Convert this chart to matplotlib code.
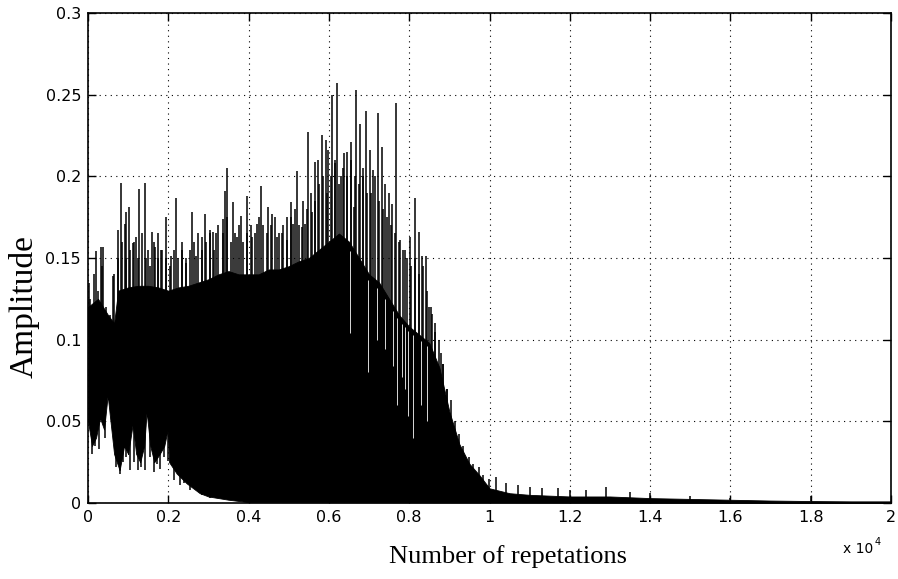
import numpy as np
import matplotlib
matplotlib.use("Agg")
import matplotlib.pyplot as plt

# ---- data ----
# dense-body envelope of the signal
env_x = [0, 250, 500, 650, 750, 1000, 1250, 1500, 1750, 2000, 2250, 2500, 2750, 3000,
         3250, 3500, 3750, 4000, 4250, 4500, 4750, 5000, 5250, 5500, 5750, 6000, 6250,
         6500, 6750, 7000, 7250, 7500, 7750, 8000, 8250, 8500, 8750, 9000, 9250, 9500,
         9750, 10000, 10500, 11000, 12000, 13000, 14000, 15000, 16000, 17000, 18000,
         19000, 20000]
body_top = [0.120, 0.125, 0.115, 0.110, 0.130, 0.132, 0.133, 0.133, 0.132, 0.130, 0.132,
            0.133, 0.135, 0.137, 0.140, 0.142, 0.140, 0.140, 0.140, 0.143, 0.143, 0.145,
            0.148, 0.150, 0.155, 0.160, 0.165, 0.160, 0.150, 0.140, 0.135, 0.125, 0.115,
            0.108, 0.103, 0.098, 0.083, 0.056, 0.036, 0.024, 0.017, 0.009, 0.006, 0.005,
            0.004, 0.004, 0.003, 0.0025, 0.002, 0.0015, 0.0012, 0.001, 0.001]
low_x = [0, 100, 200, 300, 400, 490, 560, 650, 787, 900, 1000, 1111, 1200, 1300, 1400,
         1460, 1550, 1650, 1785, 1900, 1985, 2020, 2210, 2459, 2784, 3000, 3500, 4000,
         20000]
body_low = [0.050, 0.035, 0.040, 0.052, 0.045, 0.066, 0.050, 0.030, 0.020, 0.035, 0.030,
            0.048, 0.030, 0.025, 0.035, 0.056, 0.035, 0.025, 0.030, 0.035, 0.045, 0.025,
            0.018, 0.012, 0.006, 0.004, 0.002, 0.0005, 0.0]

# medium spikes forming the ragged top edge (one every 100 repetitions)
mid_x = list(range(50, 9000, 100))
mid_y = [0.125, 0.140, 0.130, 0.145, 0.120, 0.115, 0.140, 0.150, 0.160, 0.150,
         0.155, 0.160, 0.150, 0.165, 0.150, 0.145, 0.160, 0.150, 0.155, 0.150,
         0.145, 0.155, 0.150, 0.160, 0.150, 0.155, 0.160, 0.165, 0.155, 0.160,
         0.165, 0.155, 0.170, 0.165, 0.175, 0.160, 0.165, 0.170, 0.160, 0.165,
         0.170, 0.165, 0.175, 0.170, 0.165, 0.170, 0.175, 0.165, 0.170, 0.175,
         0.175, 0.180, 0.170, 0.185, 0.180, 0.190, 0.185, 0.195, 0.200, 0.190,
         0.200, 0.210, 0.195, 0.205, 0.200, 0.210, 0.200, 0.195, 0.205, 0.190,
         0.190, 0.200, 0.185, 0.180, 0.175, 0.170, 0.165, 0.160, 0.155, 0.150,
         0.145, 0.150, 0.140, 0.145, 0.130, 0.120, 0.110, 0.100, 0.085, 0.070]

# individual tall spikes
peak_x = [37, 190, 320, 370, 620, 745, 811, 911, 950, 1011, 1120, 1200, 1269, 1411, 1490,
          1593, 1660, 1745, 1827, 1935, 2077, 2193, 2335, 2450, 2584, 2701, 2830, 2909,
          3034, 3117, 3200, 3350, 3408, 3450, 3616, 3700, 3800, 3950, 4075, 4200, 4307,
          4474, 4575, 4700, 4824, 4949, 5049, 5115, 5198, 5323, 5400, 5481, 5573, 5663,
          5738, 5822, 5930, 5988, 6072, 6155, 6213, 6297, 6380, 6447, 6547, 6613, 6679,
          6763, 6846, 6929, 7012, 7096, 7221, 7329, 7400, 7486, 7571, 7678, 7778, 7903,
          8027, 8152, 8235, 8319, 8419, 8500, 8580, 8650, 8780, 8850, 8950, 9030, 9150,
          9230, 9350, 9480, 9600, 9730, 9850, 9980, 10150, 10400, 10700, 11000, 11300,
          11700, 12000, 12400, 12900, 13500, 14000, 15000, 16000, 18000]
peak_y = [0.135, 0.154, 0.157, 0.157, 0.139, 0.167, 0.196, 0.171, 0.178, 0.181, 0.159,
          0.163, 0.192, 0.196, 0.155, 0.166, 0.157, 0.165, 0.155, 0.175, 0.151, 0.187,
          0.155, 0.147, 0.178, 0.151, 0.163, 0.177, 0.167, 0.166, 0.165, 0.174, 0.191,
          0.205, 0.184, 0.163, 0.176, 0.188, 0.163, 0.171, 0.194, 0.181, 0.177, 0.163,
          0.165, 0.161, 0.184, 0.171, 0.203, 0.169, 0.171, 0.227, 0.178, 0.209, 0.210,
          0.225, 0.222, 0.216, 0.250, 0.208, 0.257, 0.200, 0.214, 0.215, 0.221, 0.181,
          0.253, 0.232, 0.200, 0.240, 0.216, 0.204, 0.239, 0.218, 0.195, 0.190, 0.183,
          0.245, 0.161, 0.155, 0.163, 0.187, 0.166, 0.151, 0.151, 0.120, 0.116, 0.105,
          0.092, 0.085, 0.070, 0.063, 0.050, 0.042, 0.035, 0.028, 0.024, 0.022, 0.017,
          0.015, 0.016, 0.012, 0.011, 0.010, 0.009, 0.009, 0.008, 0.008, 0.010, 0.007,
          0.006, 0.004, 0.003, 0.004]

# downward spikes on the lower edge
dip_x = [100, 180, 270, 420, 700, 800, 880, 950, 1050, 1150, 1250, 1320, 1420, 1550,
         1650, 1720, 1800, 1900, 2000, 2150, 2300, 2400, 2550, 2650, 2850, 3050]
dip_y = [0.030, 0.035, 0.033, 0.040, 0.022, 0.018, 0.025, 0.028, 0.020, 0.025, 0.020,
         0.022, 0.020, 0.028, 0.019, 0.024, 0.021, 0.028, 0.026, 0.014, 0.011, 0.012,
         0.008, 0.009, 0.005, 0.003]

# light gaps (signal minima) visible inside the dark band
gap_x = [6530, 6980, 7200, 7400, 7600, 7700, 7830, 7900, 7980, 8100, 8300, 8450]
gap_y = [0.104, 0.080, 0.100, 0.094, 0.084, 0.060, 0.077, 0.070, 0.053, 0.040, 0.060, 0.050]

x_ticks = [0, 2000, 4000, 6000, 8000, 10000, 12000, 14000, 16000, 18000, 20000]
x_tick_labels = ['0', '0.2', '0.4', '0.6', '0.8', '1', '1.2', '1.4', '1.6', '1.8', '2']
y_ticks = [0, 0.05, 0.1, 0.15, 0.2, 0.25, 0.3]
y_tick_labels = ['0', '0.05', '0.1', '0.15', '0.2', '0.25', '0.3']

# ---- figure ----
fig = plt.figure(figsize=(8.98, 5.79), dpi=100)
ax = fig.add_axes([88 / 898, 76 / 579, 803 / 898, 490 / 579])

sans = ['DejaVu Sans']
serif = ['Liberation Serif', 'DejaVu Serif']

fine_x = np.linspace(0, 20000, 4001)
top_f = np.interp(fine_x, env_x, body_top)
low_f = np.interp(fine_x, low_x, body_low)
ax.fill_between(fine_x, low_f, top_f, color='black', lw=0.6, zorder=3)

ax.vlines(mid_x, np.interp(mid_x, env_x, body_top) * 0.9, mid_y,
          color='black', lw=1.1, zorder=3)
ax.vlines(peak_x, np.interp(peak_x, env_x, body_top) * 0.85, peak_y,
          color='black', lw=1.1, zorder=3)
ax.vlines(dip_x, dip_y, np.interp(dip_x, low_x, body_low) + 0.01,
          color='black', lw=1.1, zorder=3)
ax.vlines(gap_x, gap_y, np.interp(gap_x, env_x, body_top) * 0.97,
          color='white', lw=0.7, alpha=0.85, zorder=3.5)

ax.set_xlim(0, 20000)
ax.set_ylim(0, 0.3)
ax.set_xticks(x_ticks)
ax.set_xticklabels(x_tick_labels, fontfamily=sans, fontsize=11.5)
ax.set_yticks(y_ticks)
ax.set_yticklabels(y_tick_labels, fontfamily=sans, fontsize=11.5)
ax.tick_params(direction='in', length=6, width=1, top=True, right=True, pad=5)
ax.grid(True, color='black', linestyle=(0, (1, 4)), linewidth=0.8)
for s in ax.spines.values():
    s.set_linewidth(1.2)

ax.set_xlabel('Number of repetations', fontfamily=serif, fontsize=19, labelpad=13)
ax.xaxis.set_label_coords(0.523, -0.085, transform=ax.transAxes)
ax.xaxis.label.set_va('top')
ax.set_ylabel('Amplitude', fontfamily=serif, fontsize=24)
ax.yaxis.set_label_coords(-0.060, 0.40, transform=ax.transAxes)
ax.text(0.978, -0.094, 'x 10', transform=ax.transAxes, ha='right', va='center',
        fontfamily=sans, fontsize=10)
ax.text(0.979, -0.080, '4', transform=ax.transAxes, ha='left', va='center',
        fontfamily=sans, fontsize=7)

fig.savefig('out.png', dpi=100)
